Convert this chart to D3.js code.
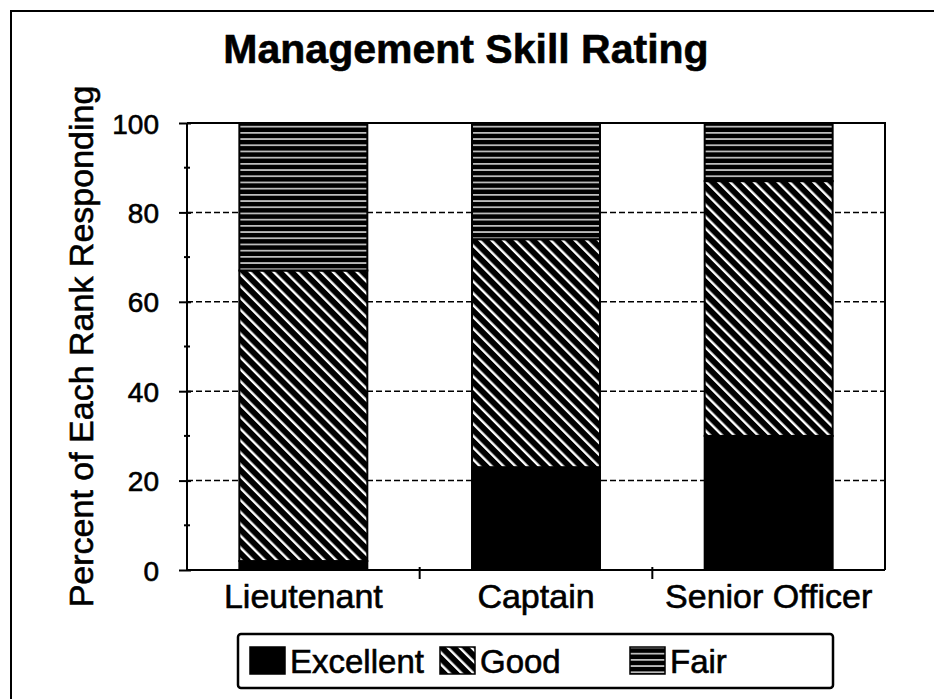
<!DOCTYPE html>
<html>
<head>
<meta charset="utf-8">
<script src="https://cdn.jsdelivr.net/npm/d3@7"></script>
<style>
  body { margin: 0; background: #fff; }
  svg { display: block; font-family: "Liberation Sans", Arial, sans-serif; }
  svg text { stroke: #000; stroke-width: 0.6px; }
</style>
</head>
<body>
<div class="visHolder"></div>
<script>
"use strict"

var categories = ['Lieutenant', 'Captain', 'Senior Officer'];
var seriesNames = ['Excellent', 'Good', 'Fair'];
var excellent = [2, 23, 30];
var good = [65, 51, 57];
var fair = [33, 26, 13];
var yTicks = [0, 20, 40, 60, 80, 100];

var width = 934,
  height = 699,
  plot = { left: 187, right: 885, top: 123, bottom: 570 };

var svg = d3.select('.visHolder').append('svg')
  .attr('width', width)
  .attr('height', height);

// patterns: hatched "good", horizontal-lined "fair"
var defs = svg.append('defs');
var pGood = defs.append('pattern')
  .attr('id', 'pat-good')
  .attr('patternUnits', 'userSpaceOnUse')
  .attr('width', 8.4).attr('height', 8.4)
  .attr('patternTransform', 'rotate(-45)');
pGood.append('rect').attr('width', 8.4).attr('height', 8.4).attr('fill', '#000');
pGood.append('rect').attr('x', 0).attr('width', 2.4).attr('height', 8.4).attr('fill', '#fff');

var pFair = defs.append('pattern')
  .attr('id', 'pat-fair')
  .attr('patternUnits', 'userSpaceOnUse')
  .attr('width', 12).attr('height', 6.2);
pFair.append('rect').attr('width', 12).attr('height', 6.2).attr('fill', '#000');
pFair.append('rect').attr('y', 2).attr('width', 12).attr('height', 1.3).attr('fill', '#fff');

var fills = ['#000', 'url(#pat-good)', 'url(#pat-fair)'];

// outer frame (left + top edges visible)
svg.append('path')
  .attr('d', 'M11,699 L11,11 L934,11')
  .attr('fill', 'none')
  .attr('stroke', '#000')
  .attr('stroke-width', 2);

svg.append('text')
  .attr('x', 466)
  .attr('y', 63)
  .attr('text-anchor', 'middle')
  .attr('font-size', 41)
  .attr('font-weight', 'bold')
  .text('Management Skill Rating');

var xScale = d3.scaleBand()
  .domain(categories)
  .range([plot.left, plot.right])
  .paddingInner(0.45)
  .paddingOuter(0.225);

var yScale = d3.scaleLinear()
  .domain([0, 100])
  .range([plot.bottom, plot.top]);

// dashed gridlines
svg.append('g').selectAll('line')
  .data(yTicks.filter(d => d > 0 && d < 100))
  .enter().append('line')
  .attr('x1', plot.left).attr('x2', plot.right)
  .attr('y1', d => yScale(d)).attr('y2', d => yScale(d))
  .attr('stroke', '#000')
  .attr('stroke-width', 1.5)
  .attr('stroke-dasharray', '6,3');

// top and right of plot frame
svg.append('path')
  .attr('d', 'M' + plot.left + ',' + plot.top + ' L' + plot.right + ',' + plot.top + ' L' + plot.right + ',' + plot.bottom)
  .attr('fill', 'none')
  .attr('stroke', '#000')
  .attr('stroke-width', 2);

// stacked bars
var rows = categories.map((c, i) => ({ cat: c, Excellent: excellent[i], Good: good[i], Fair: fair[i] }));
var stacked = d3.stack().keys(seriesNames)(rows);

svg.append('g').selectAll('g')
  .data(stacked)
  .enter().append('g')
  .attr('fill', (d, i) => fills[i])
  .selectAll('rect')
  .data(d => d)
  .enter().append('rect')
  .attr('x', d => xScale(d.data.cat))
  .attr('width', xScale.bandwidth())
  .attr('y', d => yScale(d[1]))
  .attr('height', d => yScale(d[0]) - yScale(d[1]))
  .attr('stroke', '#000')
  .attr('stroke-width', 2);

// y axis
var yAxis = d3.axisLeft(yScale)
  .tickValues(yTicks)
  .tickSize(8)
  .tickPadding(20);
var yAxisGroup = svg.append('g')
  .attr('transform', 'translate(' + plot.left + ',0)')
  .call(yAxis);
yAxisGroup.select('.domain').attr('stroke-width', 2).attr('d', 'M0,' + plot.top + 'V' + plot.bottom);
yAxisGroup.selectAll('.tick line').attr('x1', 4).attr('stroke-width', 2);
yAxisGroup.selectAll('.tick text')
  .attr('font-size', 28)
  .attr('font-family', '"Liberation Sans", Arial, sans-serif')
  .attr('dy', '0.36em');

// minor ticks
svg.append('g').selectAll('line')
  .data([10, 30, 50, 70, 90])
  .enter().append('line')
  .attr('x1', plot.left - 3).attr('x2', plot.left + 3)
  .attr('y1', d => yScale(d)).attr('y2', d => yScale(d))
  .attr('stroke', '#000')
  .attr('stroke-width', 2);

// x axis
var xAxis = d3.axisBottom(xScale).tickSize(0).tickPadding(12);
var xAxisGroup = svg.append('g')
  .attr('transform', 'translate(0,' + plot.bottom + ')')
  .call(xAxis);
xAxisGroup.select('.domain').attr('stroke-width', 2).attr('d', 'M' + plot.left + ',0H' + plot.right);
xAxisGroup.selectAll('.tick text')
  .attr('font-size', 34)
  .attr('font-family', '"Liberation Sans", Arial, sans-serif')
  .attr('dy', '0.75em');

// category boundary ticks
var step = xScale.step();
svg.append('g').selectAll('line')
  .data(categories.slice(1))
  .enter().append('line')
  .attr('x1', d => xScale(d) - (step - xScale.bandwidth()) / 2)
  .attr('x2', d => xScale(d) - (step - xScale.bandwidth()) / 2)
  .attr('y1', plot.bottom - 3).attr('y2', plot.bottom + 9)
  .attr('stroke', '#000')
  .attr('stroke-width', 2);

// y axis title
svg.append('text')
  .attr('transform', 'translate(93,' + ((plot.top + plot.bottom) / 2) + ') rotate(-90)')
  .attr('text-anchor', 'middle')
  .attr('font-size', 34)
  .text('Percent of Each Rank Responding');

// legend
var legend = svg.append('g');
legend.append('rect')
  .attr('x', 238).attr('y', 634)
  .attr('width', 595).attr('height', 54)
  .attr('rx', 3)
  .attr('fill', '#fff')
  .attr('stroke', '#000')
  .attr('stroke-width', 2.5);

var legendX = [250, 440, 630];
var items = legend.selectAll('g.item')
  .data(seriesNames)
  .enter().append('g')
  .attr('class', 'item')
  .attr('transform', (d, i) => 'translate(' + legendX[i] + ',0)');
items.append('rect')
  .attr('y', 647)
  .attr('width', 35).attr('height', 27)
  .attr('fill', (d, i) => fills[i])
  .attr('stroke', '#000')
  .attr('stroke-width', 1.5);
items.append('text')
  .attr('x', 40)
  .attr('y', 673)
  .attr('font-size', 33)
  .text(d => d);
</script>
</body>
</html>
